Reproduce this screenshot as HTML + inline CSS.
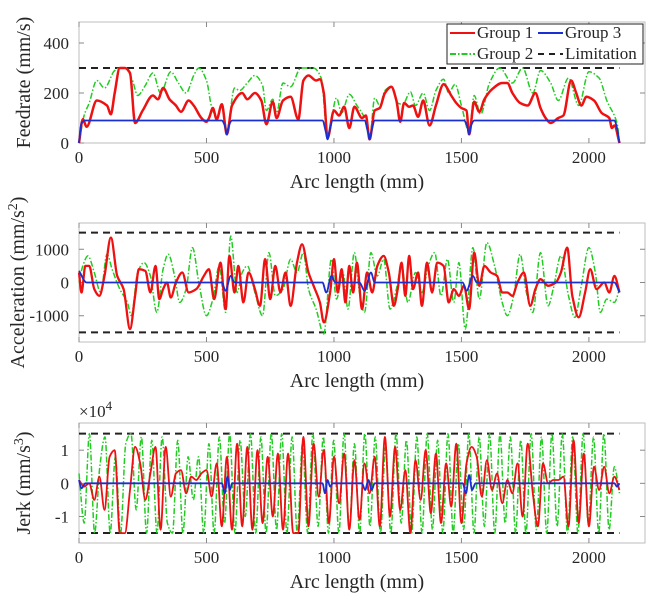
<!DOCTYPE html>
<html><head><meta charset="utf-8"><style>
body{margin:0;background:#fff}
svg text{font-family:"Liberation Serif",serif;fill:#262626}
</style></head><body>
<svg id="c" width="654" height="605" viewBox="0 0 654 605" xmlns="http://www.w3.org/2000/svg"></svg>
<script>
const xTicks=[0,500,1000,1500,2000];
const feedTicks=[0,200,400];
const accTicks=[-1000,0,1000];
const jerkTicks=[-1,0,1];
const feedLimit=300, accLimit=1500, jerkLimit=1.5;
const feedRedX=[0,15,30,70,110,125,140,160,180,200,220,250,290,310,330,355,380,400,430,450,480,500,510,525,540,560,580,600,640,660,690,715,735,760,775,800,830,860,880,900,930,945,960,975,1000,1020,1040,1060,1080,1110,1125,1140,1160,1180,1200,1225,1245,1260,1275,1295,1310,1330,1350,1375,1400,1430,1460,1480,1500,1520,1530,1550,1570,1590,1620,1660,1680,1700,1730,1760,1790,1810,1830,1850,1880,1900,1930,1950,1970,1990,2020,2050,2080,2090,2100,2120];
const feedRed=[0,95,65,170,150,115,200,300,300,280,80,130,190,175,220,175,150,125,170,150,100,85,100,140,95,155,35,150,200,175,200,170,75,165,100,170,185,95,250,270,250,255,200,20,130,110,145,60,145,100,110,15,130,140,200,225,170,85,160,145,150,105,170,70,150,235,190,160,140,130,35,165,125,175,215,240,240,200,160,150,200,140,100,80,100,110,250,200,150,185,170,120,100,60,70,0];
const feedGreenX=[0,20,40,70,100,140,160,180,210,230,260,290,320,360,390,420,450,470,500,520,540,560,580,610,630,660,690,720,735,760,775,800,830,870,920,950,975,1010,1030,1060,1090,1120,1140,1160,1180,1200,1225,1250,1270,1300,1320,1350,1375,1400,1430,1450,1475,1500,1530,1550,1575,1610,1650,1700,1740,1780,1810,1850,1880,1920,1960,2000,2040,2070,2110,2120];
const feedGreen=[0,110,160,250,220,290,300,300,250,190,230,280,200,285,240,200,270,300,250,145,100,155,50,220,210,240,270,230,130,175,120,240,225,300,300,260,25,180,120,195,150,100,20,180,150,210,225,160,155,205,150,200,130,210,255,200,235,150,45,190,115,240,300,240,300,200,290,240,170,260,150,285,260,170,80,0];
const feedBlueX=[0,10,25,560,572,580,588,600,955,967,975,983,995,1120,1132,1140,1148,1160,1510,1522,1530,1538,1550,2100,2110,2120];
const feedBlue=[0,80,90,90,70,35,70,90,90,50,15,50,90,90,50,15,50,90,90,70,35,70,90,90,60,0];
const accRedX=[0,10,25,40,60,80,100,125,150,175,200,220,235,260,280,300,315,330,345,360,380,405,430,460,490,510,530,555,575,590,610,625,645,665,690,710,730,750,770,790,810,830,855,875,900,920,945,960,985,1000,1015,1030,1045,1060,1075,1090,1110,1130,1150,1170,1195,1215,1235,1250,1265,1280,1295,1310,1330,1345,1365,1385,1405,1430,1450,1470,1490,1510,1530,1550,1570,1590,1615,1640,1660,1680,1700,1720,1745,1770,1790,1810,1840,1870,1890,1915,1935,1960,1985,2005,2030,2060,2080,2100,2120];
const accRed=[300,-300,500,500,-200,-400,200,1350,200,-200,-1400,-400,400,350,-300,500,-500,-200,0,-450,0,300,-300,-200,200,400,-500,600,-800,800,-300,500,-600,300,-200,-700,700,-500,500,-300,300,-700,600,1150,300,-100,-600,-1200,-300,700,-300,400,-600,500,-300,600,-800,300,-300,500,800,300,-700,-200,600,-400,800,-200,300,-700,600,-300,600,500,-600,-200,-400,-100,-800,900,-100,500,300,200,-300,-300,-400,0,300,-700,-200,100,-100,0,300,1050,-400,-1050,-300,400,-200,0,-300,200,-300];
const accGreenX=[0,15,35,60,85,110,130,160,190,205,230,255,280,305,330,350,375,395,420,445,470,500,525,550,575,595,620,640,660,690,720,745,770,800,830,855,880,900,930,960,990,1010,1035,1055,1080,1100,1120,1145,1170,1195,1220,1245,1265,1290,1320,1345,1370,1395,1420,1445,1470,1490,1515,1545,1570,1600,1630,1660,1680,1705,1730,1755,1780,1810,1840,1860,1890,1920,1945,1970,2000,2025,2045,2070,2100,2120];
const accGreen=[0,500,800,300,-300,850,400,-200,-600,-1000,300,600,200,-900,400,850,200,-600,-200,1050,0,-1000,-500,500,-900,1400,-300,300,500,-300,-1000,900,-400,-200,700,300,900,-200,-800,-1550,700,-500,300,-800,900,-300,-900,900,200,700,-800,-200,500,-600,300,-300,500,900,-400,700,-600,600,-1400,1050,-500,1200,500,-600,-1000,-400,850,-300,-900,900,-700,-200,800,-400,-1050,-100,1050,300,-900,-500,-600,-200];
const accBlueX=[0,30,560,575,595,610,955,970,990,1005,1100,1120,1145,1160,1505,1520,1545,1560,2100,2120];
const accBlue=[350,0,0,-250,200,0,0,-300,200,0,0,-250,300,0,0,-250,200,0,0,-300];
const jerkRed=[0.1,-0.1,0.0,-0.5,0.2,-0.8,0.8,1.0,-1.5,-1.5,-0.2,1.1,0.6,-0.5,0.3,1.1,-1.4,1.1,-0.4,0.3,0.4,-0.3,0.2,0.1,0.3,0.4,-0.4,0.6,-1.3,0.8,-1.4,1.2,-1.3,1.1,-1.4,1.0,-1.2,0.8,-1.0,0.9,-1.4,0.9,-1.5,-1.5,1.4,-1.3,1.2,-0.4,1.0,-1.2,0.8,-0.6,0.9,-1.4,0.7,-1.1,0.6,-0.3,0.8,-1.3,1.4,-1.0,1.1,-0.8,0.4,-1.5,0.7,-0.5,1.0,-0.9,0.9,-1.2,0.6,-0.7,1.2,-1.2,0.6,1.1,0.8,-0.4,0.7,-0.2,0.3,-0.6,0.1,-0.3,0.6,-1.0,1.2,-0.3,-1.3,0.6,0.0,0.1,0.1,0.2,-1.3,1.3,-1.2,0.9,-1.3,0.5,-0.2,0.5,-0.3,0.2,-0.2];
const jerkGreen=[0.3,-1.2,1.5,-1.5,0.5,1.4,-1.5,0.8,-1.5,1.2,1.5,-0.8,1.4,-1.5,1.3,-1.5,1.4,-1.2,-1.5,1.3,-1.5,0.8,-0.5,0.8,-1.5,1.2,-1.5,1.4,-1.2,1.5,-1.5,1.3,-1.0,1.5,-1.5,1.4,-1.5,1.5,-1.4,1.5,-1.5,1.4,-1.5,1.2,-1.5,1.5,-1.3,1.4,-1.5,1.3,-1.5,1.5,-1.4,1.2,-1.5,1.5,-1.3,1.4,-1.5,1.1,-1.5,1.5,-1.2,1.3,-1.5,1.4,-1.5,1.5,-1.4,1.3,-1.5,1.5,-1.5,1.2,-1.4,1.5,-1.5,1.4,-1.3,1.5,-1.5,1.5,-1.2,1.4,-1.5,1.3,-1.5,1.5,-1.4,1.4,-1.5,1.5,-1.3,1.5,-1.5,1.4,-1.5,1.5,-1.2,1.4,-1.5,1.5,-1.4,0.5,-0.3];
const jerkBlueX=[0,10,25,560,572,582,592,600,955,965,975,985,995,1110,1122,1135,1148,1160,1505,1518,1530,1542,1555,2100,2110,2120];
const jerkBlue=[0.1,-0.15,0,0,-0.3,0.2,-0.2,0,0,-0.3,0.1,-0.1,0,0,-0.2,0.1,-0.2,0,0,-0.3,0.25,-0.2,0,0,-0.1,0];
const XMAX=2220, XL=79, XR=645;
const svg=document.getElementById('c');
const NS='http://www.w3.org/2000/svg';
function X(v){return XL+v/XMAX*(XR-XL);}
function mk(tag,attrs,parent){const e=document.createElementNS(NS,tag);for(const k in attrs)e.setAttribute(k,attrs[k]);(parent||svg).appendChild(e);return e;}
function panel(name,top,bot,ymin,ymax,ticks,tickFmt,ylabel,lx){
  const g=mk('g',{});
  
  
  const Y=v=>bot-(v-ymin)/(ymax-ymin)*(bot-top);
  const box=mk('rect',{x:XL,y:top,width:XR-XL,height:bot-top,fill:'#fff',stroke:'#bdbdbd','stroke-width':1},g);
  
  
  xTicks.forEach(t=>{
    mk('line',{x1:X(t),x2:X(t),y1:bot,y2:bot-5,stroke:'#888'},g);
    mk('line',{x1:X(t),x2:X(t),y1:top,y2:top+5,stroke:'#888'},g);
    const tx=mk('text',{x:X(t),y:bot+20,'font-size':17,'text-anchor':'middle'},g);
    tx.textContent=t;
    
    
  });
  ticks.forEach(t=>{
    mk('line',{x1:XL,x2:XL+5,y1:Y(t),y2:Y(t),stroke:'#888'},g);
    mk('line',{x1:XR,x2:XR-5,y1:Y(t),y2:Y(t),stroke:'#888'},g);
    const tx=mk('text',{x:XL-10,y:Y(t)+6,'font-size':17,'text-anchor':'end'},g);
    tx.textContent=tickFmt(t);
    
    
  });
  const xl=mk('text',{x:(XL+XR)/2-5,y:bot+45,'font-size':20,'text-anchor':'middle'},g);
  xl.textContent='Arc length (mm)';
  
  
  const yl=mk('text',{x:lx,y:(top+bot)/2,'font-size':20,'text-anchor':'middle',transform:`rotate(-90 ${lx} ${(top+bot)/2})`},g);
  yl.innerHTML=ylabel;
  
  
  return {g,Y};
}
function line(p,xs,ys,color,w,dash,nm){
  const P=xs.map((x,i)=>[X(x),p.Y(ys[i])]);
  const n=P.length, d=[], m=[];
  for(let i=0;i<n-1;i++){const dx=P[i+1][0]-P[i][0];d.push(dx>0?(P[i+1][1]-P[i][1])/dx:0);}
  for(let i=0;i<n;i++){
    if(i===0)m.push(d[0]);else if(i===n-1)m.push(d[n-2]);
    else if(d[i-1]*d[i]<=0)m.push(0);
    else m.push(2/(1/d[i-1]+1/d[i]));
  }
  let s='M'+P[0][0].toFixed(1)+','+P[0][1].toFixed(1);
  for(let i=0;i<n-1;i++){
    const h=(P[i+1][0]-P[i][0])/3;
    s+=' C'+(P[i][0]+h).toFixed(1)+','+(P[i][1]+m[i]*h).toFixed(1)+' '+(P[i+1][0]-h).toFixed(1)+','+(P[i+1][1]-m[i+1]*h).toFixed(1)+' '+P[i+1][0].toFixed(1)+','+P[i+1][1].toFixed(1);
  }
  const l=mk('path',{d:s,fill:'none',stroke:color,'stroke-width':w,'stroke-linejoin':'round','stroke-dasharray':dash||'none'},p.g);
  
  
}
function limit(p,v,nm){
  const l=mk('line',{x1:X(0),x2:X(2120),y1:p.Y(v),y2:p.Y(v),stroke:'#222','stroke-width':2,'stroke-dasharray':'7 5'},p.g);
  
  
}
function idxX(arr){return arr.map((v,i)=>i*2120/(arr.length-1));}
const GD='6 2 1.5 2';
const p1=panel('feedrate',22,143,0,484,feedTicks,t=>t,'Feedrate (mm/s)',30);
limit(p1,feedLimit,'feedrate-limit-line');
line(p1,feedGreenX,feedGreen,'#22cc22',1.5,GD,'feedrate-group2-line');
line(p1,feedRedX,feedRed,'#ee1111',2.5,null,'feedrate-group1-line');
line(p1,feedBlueX,feedBlue,'#1a2fd0',1.8,null,'feedrate-group3-line');
const p2=panel('acceleration',223,342,-1790,1790,accTicks,t=>t,'Acceleration (mm/s<tspan dy="-7" font-size="14">2</tspan><tspan dy="7">)</tspan>',24);
limit(p2,accLimit,'acceleration-upper-limit');
limit(p2,-accLimit,'acceleration-lower-limit');
line(p2,accGreenX,accGreen,'#22cc22',1.5,GD,'acceleration-group2-line');
line(p2,accRedX,accRed,'#ee1111',2.3,null,'acceleration-group1-line');
line(p2,accBlueX,accBlue,'#1a2fd0',1.8,null,'acceleration-group3-line');
const p3=panel('jerk',423,543,-1.8,1.82,jerkTicks,t=>t,'Jerk (mm/s<tspan dy="-7" font-size="14">3</tspan><tspan dy="7">)</tspan>',30);
limit(p3,jerkLimit,'jerk-upper-limit');
limit(p3,-jerkLimit,'jerk-lower-limit');
line(p3,idxX(jerkGreen),jerkGreen,'#22cc22',1.5,GD,'jerk-group2-line');
line(p3,idxX(jerkRed),jerkRed,'#ee1111',1.8,null,'jerk-group1-line');
line(p3,jerkBlueX,jerkBlue,'#1a2fd0',1.8,null,'jerk-group3-line');
const ex=mk('text',{x:79,y:417,'font-size':17});
ex.innerHTML='×10<tspan dy="-7" font-size="13">4</tspan>';


const lg=mk('g',{});


mk('rect',{x:447,y:24,width:196,height:40,fill:'#fff',stroke:'#222','stroke-width':1},lg);
const ents=[['Group 1','#ee1111',null,450,38],['Group 3','#1a2fd0',null,538,38],['Group 2','#22cc22',GD,450,59],['Limitation','#222','6 5',538,59]];
ents.forEach(e=>{
  const l=mk('line',{x1:e[3],x2:e[3]+25,y1:e[4]-5,y2:e[4]-5,stroke:e[1],'stroke-width':2,'stroke-dasharray':e[2]||'none'},lg);
  
  
  const t=mk('text',{x:e[3]+27,y:e[4],'font-size':17},lg);
  t.textContent=e[0];
  
  
});
</script>
</body></html>
